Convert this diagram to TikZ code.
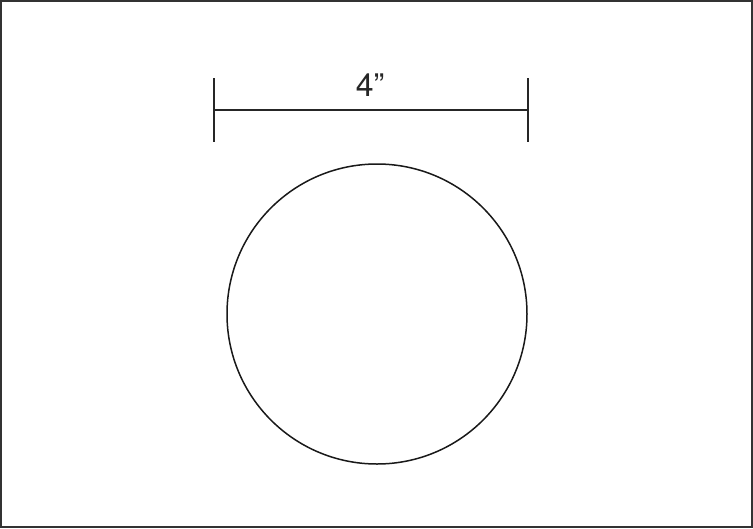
\documentclass[tikz,border=0pt]{standalone}
\usepackage{fontspec}
\setmainfont{TeX Gyre Heros}
\begin{document}
\begin{tikzpicture}[x=1pt,y=-1pt,
  frame/.style={draw=black!80,line width=2pt},
  dimline/.style={draw=black!85,line width=2pt},
  shapeline/.style={draw=black!90,line width=1.5pt}]
\useasboundingbox (0,0) rectangle (753,528);
\draw[frame] (1,1) rectangle (752,527);
\coordinate (lt) at (214,78);
\coordinate (lb) at (214,142);
\coordinate (rt) at (528,78);
\coordinate (rb) at (528,142);
\coordinate (lm) at (214,110);
\coordinate (rm) at (528,110);
\draw[dimline] (lt) -- (lb);
\draw[dimline] (rt) -- (rb);
\draw[dimline] (lm) -- (rm);
\node[font=\fontsize{32}{36}\selectfont, text=black!85, anchor=base] (lbl) at (370,96) {4”};
\node[shapeline, circle, minimum size=300pt, inner sep=0pt] (c) at (377,314) {};
\end{tikzpicture}
\end{document}
